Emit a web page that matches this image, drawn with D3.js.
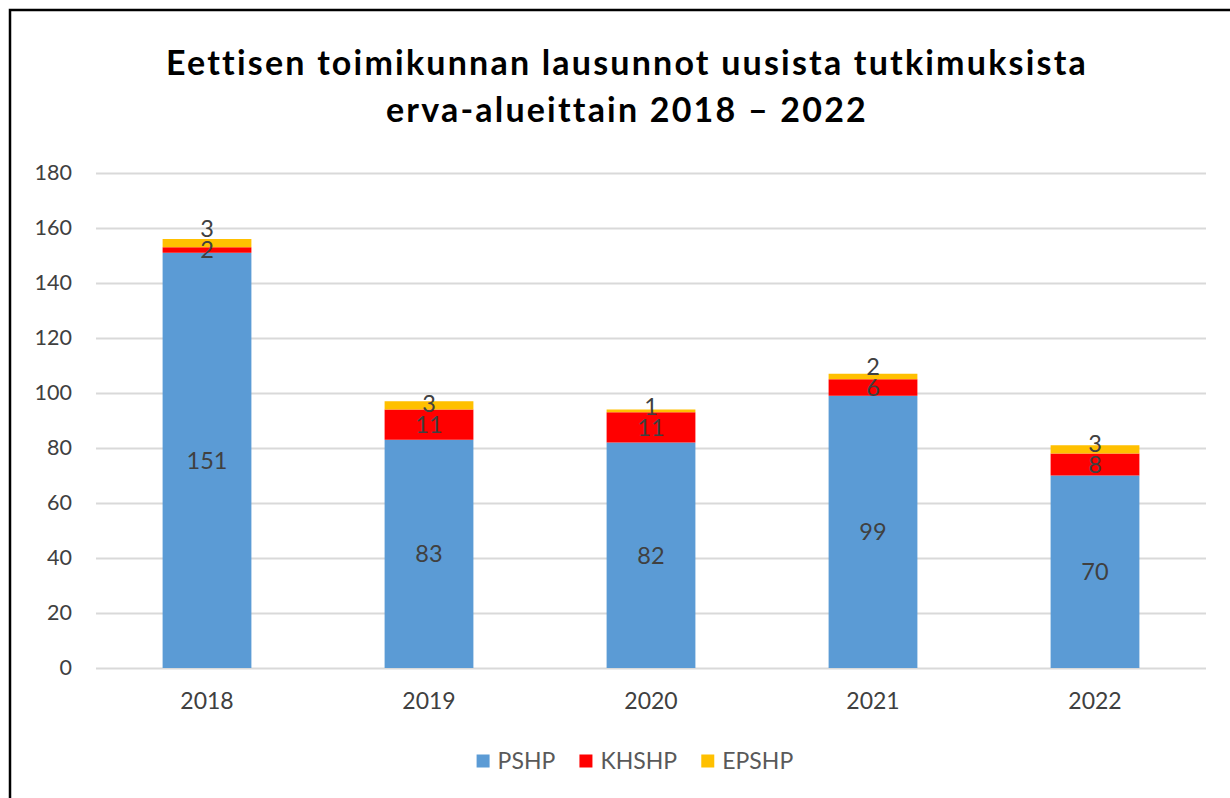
<!DOCTYPE html>
<html>
<head>
<meta charset="utf-8">
<script src="https://cdn.jsdelivr.net/npm/d3@7"></script>
<style>
  body { margin: 0; background: #fff; }
  svg { display: block; font-family: Lato, "Open Sans", sans-serif; }
</style>
</head>
<body>
<div id="chart"></div>
<script>
// Chart data
var years = ["2018", "2019", "2020", "2021", "2022"];
var seriesNames = ["PSHP", "KHSHP", "EPSHP"];
var pshp = [151, 83, 82, 99, 70];
var khshp = [2, 11, 11, 6, 8];
var epshp = [3, 3, 1, 2, 3];
var yTicks = [0, 20, 40, 60, 80, 100, 120, 140, 160, 180];
var titleLines = ["Eettisen toimikunnan lausunnot uusista tutkimuksista", "erva-alueittain 2018 \u2013 2022"];

var colors = ["#5b9bd5", "#ff0000", "#ffc000"];

var W = 1230, H = 798;
var plot = {left: 96, right: 1206, top: 173, bottom: 668};
var font = "Lato, 'Open Sans', sans-serif";

// table for the stack layout
var table = years.map(function(y, i) {
    return {year: y, PSHP: pshp[i], KHSHP: khshp[i], EPSHP: epshp[i]};
});

var svg = d3.select("#chart").append("svg")
    .attr("width", W)
    .attr("height", H);

svg.append("rect").attr("width", W).attr("height", H).attr("fill", "#fff");

// chart frame (left and top edges visible)
svg.append("path")
    .attr("d", "M10," + H + "V10H" + W)
    .attr("fill", "none")
    .attr("stroke", "#000")
    .attr("stroke-width", 2.5);

// title
svg.append("g").selectAll("text")
    .data(titleLines)
    .enter().append("text")
    .attr("x", 627)
    .attr("y", function(d, i) { return 75 + i * 47; })
    .attr("text-anchor", "middle")
    .style("font-size", "34px")
    .style("font-weight", "bold")
    .style("letter-spacing", "2.2px")
    .attr("fill", "#000")
    .text(function(d) { return d; });

// scales
var x = d3.scaleBand()
    .domain(years)
    .range([plot.left, plot.right])
    .paddingInner(0.6)
    .paddingOuter(0.3);

var y = d3.scaleLinear()
    .domain([0, 180])
    .range([plot.bottom, plot.top]);

// y axis + gridlines
var yAxis = d3.axisLeft(y)
    .tickValues(yTicks)
    .tickSize(-(plot.right - plot.left))
    .tickPadding(24);

var gy = svg.append("g")
    .attr("class", "y axis")
    .attr("transform", "translate(" + plot.left + ",0)")
    .call(yAxis);
gy.select(".domain").remove();
gy.selectAll("line").attr("stroke", "#d9d9d9").attr("stroke-width", 2);
gy.selectAll("text")
    .attr("fill", "#404040")
    .style("font-family", font)
    .style("font-size", "21.5px");

// x axis
var xAxis = d3.axisBottom(x).tickSize(0).tickPadding(25);
var gx = svg.append("g")
    .attr("class", "x axis")
    .attr("transform", "translate(0," + plot.bottom + ")")
    .call(xAxis);
gx.select(".domain").remove();
gx.selectAll("text")
    .attr("fill", "#404040")
    .style("font-family", font)
    .style("font-size", "23px");

// stacked bars
var stacked = d3.stack().keys(seriesNames)(table);

var layers = svg.append("g").selectAll("g")
    .data(stacked)
    .enter().append("g")
    .attr("fill", function(d, i) { return colors[i]; });

layers.selectAll("rect")
    .data(function(d) { return d; })
    .enter().append("rect")
    .attr("x", function(d) { return x(d.data.year); })
    .attr("width", x.bandwidth())
    .attr("y", function(d) { return y(d[1]); })
    .attr("height", function(d) { return y(d[0]) - y(d[1]); });

// data labels, centred in the segment, pushed up when they would overlap the one below
var minGap = 21;
var labels = [];
years.forEach(function(yr, j) {
    var prev = null;
    stacked.forEach(function(s) {
        var seg = s[j];
        var cy = (y(seg[0]) + y(seg[1])) / 2;
        if (prev !== null && cy > prev - minGap) cy = prev - minGap;
        prev = cy;
        labels.push({x: x(yr) + x.bandwidth() / 2, y: cy, value: seg.data[s.key]});
    });
});

svg.append("g").selectAll("text")
    .data(labels)
    .enter().append("text")
    .attr("x", function(d) { return d.x; })
    .attr("y", function(d) { return d.y; })
    .attr("dy", "0.36em")
    .attr("text-anchor", "middle")
    .attr("fill", "#404040")
    .style("font-size", "23.5px")
    .text(function(d) { return d.value; });

// legend
var legend = svg.append("g").attr("class", "legend");
var items = legend.selectAll("g")
    .data(seriesNames)
    .enter().append("g");

items.append("rect")
    .attr("width", 13)
    .attr("height", 13)
    .attr("y", -6.5)
    .attr("fill", function(d, i) { return colors[i]; });

items.append("text")
    .attr("x", 21)
    .attr("dy", "0.36em")
    .attr("fill", "#595959")
    .style("font-size", "23px")
    .text(function(d) { return d; });

var offsets = [], pos = 0;
items.each(function() {
    offsets.push(pos);
    pos += this.getBBox().width + 24;
});
var legendWidth = pos - 24;
var legendX = 635 - legendWidth / 2;
items.attr("transform", function(d, i) {
    return "translate(" + (legendX + offsets[i]) + ",761)";
});
</script>
</body>
</html>
